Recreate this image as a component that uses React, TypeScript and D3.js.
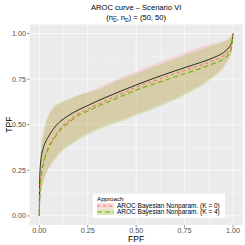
import React from "react";
import * as d3 from "d3";

const fpf = [0, 0.002, 0.005, 0.01, 0.02, 0.03, 0.05, 0.075, 0.1, 0.15, 0.2, 0.25, 0.3, 0.4, 0.5, 0.6, 0.7, 0.8, 0.9, 0.95, 0.98, 0.99, 0.995, 1];
const trueTpf = [0, 0.2, 0.27, 0.32, 0.37, 0.4, 0.44, 0.48, 0.51, 0.55, 0.58, 0.605, 0.63, 0.675, 0.718, 0.758, 0.795, 0.83, 0.868, 0.895, 0.925, 0.942, 0.958, 1];
const k0Tpf = [0, 0.1, 0.17, 0.23, 0.29, 0.33, 0.385, 0.43, 0.47, 0.52, 0.56, 0.585, 0.61, 0.658, 0.705, 0.743, 0.78, 0.815, 0.852, 0.877, 0.905, 0.925, 0.948, 1];
const k4Tpf = [0, 0.1, 0.16, 0.22, 0.28, 0.32, 0.375, 0.42, 0.46, 0.51, 0.55, 0.575, 0.6, 0.645, 0.69, 0.726, 0.762, 0.797, 0.835, 0.86, 0.89, 0.91, 0.935, 1];
const k0Upper = [0, 0.22, 0.3, 0.37, 0.44, 0.49, 0.55, 0.59, 0.61, 0.635, 0.66, 0.68, 0.7, 0.75, 0.79, 0.835, 0.875, 0.915, 0.945, 0.96, 0.975, 0.985, 0.99, 1];
const k0Lower = [0, 0.04, 0.08, 0.13, 0.19, 0.22, 0.27, 0.31, 0.345, 0.39, 0.425, 0.455, 0.48, 0.52, 0.56, 0.6, 0.645, 0.7, 0.77, 0.82, 0.87, 0.895, 0.92, 1];
const k4Upper = [0, 0.23, 0.31, 0.38, 0.45, 0.5, 0.56, 0.6, 0.62, 0.64, 0.66, 0.675, 0.69, 0.74, 0.78, 0.82, 0.86, 0.9, 0.935, 0.955, 0.97, 0.98, 0.99, 1];
const k4Lower = [0, 0.04, 0.075, 0.12, 0.18, 0.215, 0.26, 0.3, 0.335, 0.38, 0.415, 0.445, 0.47, 0.51, 0.55, 0.59, 0.635, 0.69, 0.76, 0.81, 0.86, 0.885, 0.91, 1];

const approaches = ["AROC Bayesian Nonparam. (K = 0)", "AROC Bayesian Nonparam. (K = 4)"];
const colors = ["#F8766D", "#7CAE00"];
const dashes = ["3,3", "5,3"];
const tickVals = [0, 0.25, 0.5, 0.75, 1];
const tickLabels = ["0.00", "0.25", "0.50", "0.75", "1.00"];
const minorVals = [0.125, 0.375, 0.625, 0.875];

const W = 245, H = 245;
const panel = { left: 29.6, right: 242.7, top: 24.4, bottom: 225 };

export default function App() {
  const xs = d3.scaleLinear().domain([-0.05, 1.05]).range([panel.left, panel.right]);
  const ys = d3.scaleLinear().domain([-0.05, 1.05]).range([panel.bottom, panel.top]);
  const font = "'Liberation Sans', Arial, sans-serif";

  const series = [
    { tpf: k0Tpf, lo: k0Lower, hi: k0Upper },
    { tpf: k4Tpf, lo: k4Lower, hi: k4Upper },
  ];
  const line = (vals: number[]) =>
    d3.line<number>().x((_, i) => xs(fpf[i])).y((d) => ys(d)).curve(d3.curveMonotoneX)(vals) || "";
  const area = (lo: number[], hi: number[]) =>
    d3.area<number>().x((_, i) => xs(fpf[i])).y0((_, i) => ys(lo[i])).y1((_, i) => ys(hi[i])).curve(d3.curveMonotoneX)(fpf) || "";

  const lg = { x: 93, y: 194, w: 132, h: 24 };

  return (
    <svg width={W} height={H} style={{ position: "absolute", left: 0, top: 0 }} fontFamily={font}>
      <rect x={0} y={0} width={W} height={H} fill="#fff" />
      <rect x={panel.left} y={panel.top} width={panel.right - panel.left} height={panel.bottom - panel.top} fill="#EBEBEB" />
      {minorVals.map((v) => (
        <g key={"m" + v}>
          <line x1={xs(v)} x2={xs(v)} y1={panel.top} y2={panel.bottom} stroke="#fff" strokeWidth={0.35} />
          <line y1={ys(v)} y2={ys(v)} x1={panel.left} x2={panel.right} stroke="#fff" strokeWidth={0.35} />
        </g>
      ))}
      {tickVals.map((v) => (
        <g key={"M" + v}>
          <line x1={xs(v)} x2={xs(v)} y1={panel.top} y2={panel.bottom} stroke="#fff" strokeWidth={0.7} />
          <line y1={ys(v)} y2={ys(v)} x1={panel.left} x2={panel.right} stroke="#fff" strokeWidth={0.7} />
        </g>
      ))}
      {series.map((s, i) => (
        <path key={"a" + i} d={area(s.lo, s.hi)} fill={colors[i]} fillOpacity={0.2} stroke="none" />
      ))}
      <path d={line(trueTpf)} fill="none" stroke="#000" strokeWidth={0.8} />
      {series.map((s, i) => (
        <path key={"l" + i} d={line(s.tpf)} fill="none" stroke={colors[i]} strokeWidth={1.1} strokeDasharray={dashes[i]} />
      ))}
      {tickVals.map((v, i) => (
        <g key={"t" + v}>
          <line x1={panel.left - 2.5} x2={panel.left} y1={ys(v)} y2={ys(v)} stroke="#333" strokeWidth={0.5} />
          <text x={panel.left - 3.5} y={ys(v)} dy="0.35em" textAnchor="end" fontSize={7.2} fill="#4D4D4D">{tickLabels[i]}</text>
          <line y1={panel.bottom} y2={panel.bottom + 2.5} x1={xs(v)} x2={xs(v)} stroke="#333" strokeWidth={0.5} />
          <text x={xs(v)} y={panel.bottom + 7.5} textAnchor="middle" fontSize={7.2} fill="#4D4D4D">{tickLabels[i]}</text>
        </g>
      ))}
      <text x={(panel.left + panel.right) / 2} y={242} textAnchor="middle" fontSize={8.5} fill="#000">FPF</text>
      <text transform={`translate(11.5,${(panel.top + panel.bottom) / 2}) rotate(-90)`} textAnchor="middle" fontSize={8.5} fill="#000">TPF</text>
      <text x={(panel.left + panel.right) / 2} y={10} textAnchor="middle" fontSize={7.6} fill="#000">AROC curve – Scenario VI</text>
      <text x={(panel.left + panel.right) / 2} y={20} textAnchor="middle" fontSize={7.6} fill="#000">
        (n<tspan fontSize={5} dy={1.5} textDecoration="overline">D</tspan><tspan dy={-1.5}>, n</tspan><tspan fontSize={5} dy={1.5}>D</tspan><tspan dy={-1.5}>) = (50, 50)</tspan>
      </text>
      <rect x={lg.x} y={lg.y} width={lg.w} height={lg.h} fill="#fff" />
      <text x={lg.x + 4} y={lg.y + 7} fontSize={6.2} fill="#000">Approach</text>
      {approaches.map((a, i) => {
        const cy = lg.y + 12 + i * 6;
        return (
          <g key={"lg" + i}>
            <rect x={lg.x + 4} y={cy - 2.8} width={17} height={5.6} fill={colors[i]} fillOpacity={0.3} />
            <line x1={lg.x + 4} x2={lg.x + 21} y1={cy} y2={cy} stroke={colors[i]} strokeWidth={1.1} strokeDasharray={dashes[i]} />
            <text x={lg.x + 24} y={cy} dy="0.35em" fontSize={6.5} fill="#000">{a}</text>
          </g>
        );
      })}
    </svg>
  );
}
